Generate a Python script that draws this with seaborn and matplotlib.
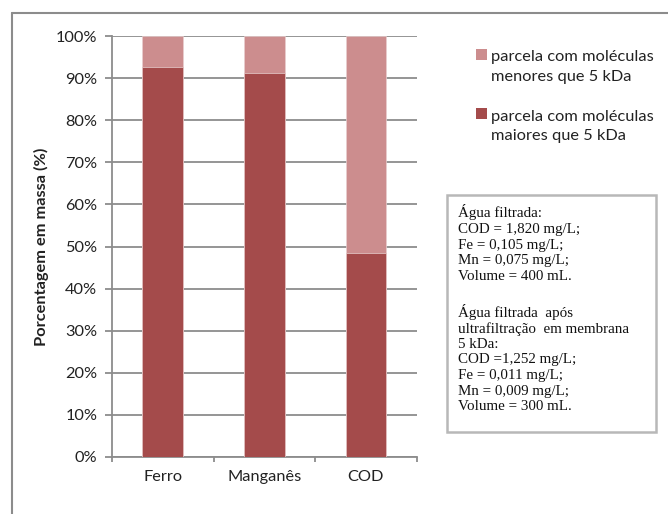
import matplotlib
matplotlib.use("Agg")
import matplotlib.pyplot as plt
from matplotlib.patches import Rectangle
from matplotlib.lines import Line2D
import seaborn as sns
import pandas as pd

# ---- dados ----
categorias = ["Ferro", "Manganês", "COD"]
maiores_5kda = [92.6, 91.3, 48.4]   # % em massa, moléculas > 5 kDa
menores_5kda = [7.4, 8.7, 51.6]     # % em massa, moléculas < 5 kDa
y_ticks = [0, 10, 20, 30, 40, 50, 60, 70, 80, 90, 100]
rotulos_legenda = [
    ["parcela com moléculas", "menores que 5 kDa"],
    ["parcela com moléculas", "maiores que 5 kDa"],
]
agua_filtrada = ["Água filtrada:", "COD = 1,820 mg/L;", "Fe = 0,105 mg/L;",
                 "Mn = 0,075 mg/L;", "Volume = 400 mL."]
agua_ultrafiltrada = ["Água filtrada  após", "ultrafiltração  em membrana", "5 kDa:",
                      "COD =1,252 mg/L;", "Fe = 0,011 mg/L;", "Mn = 0,009 mg/L;",
                      "Volume = 300 mL."]

COR_ESCURA = "#A44B4B"
COR_CLARA = "#CC8D8E"
CINZA = "#8C8C8C"
FS = 11.8

sns.set_style("white")
plt.rcParams["font.family"] = ["Lato", "DejaVu Sans"]

W, H = 668, 514
fig = plt.figure(figsize=(W / 100, H / 100), dpi=100)


def px(x, y):
    """pixel (from top-left) -> figure fraction"""
    return x / W, 1 - y / H


ax = fig.add_axes([112 / W, 1 - 457 / H, (416.7 - 112) / W, (457 - 36) / H])

df = pd.DataFrame({"categoria": categorias,
                   "maiores": maiores_5kda,
                   "menores": menores_5kda})
df["total"] = df["maiores"] + df["menores"]

# stacked bars: full column in light colour, lower part in dark colour
sns.barplot(data=df, x="categoria", y="total", color=COR_CLARA, width=0.4,
            saturation=1, errorbar=None, ax=ax, zorder=2,
            edgecolor="#E9CFCF", linewidth=0.5)
sns.barplot(data=df, x="categoria", y="maiores", color=COR_ESCURA, width=0.4,
            saturation=1, errorbar=None, ax=ax, zorder=3,
            edgecolor="#E9CFCF", linewidth=0.5)

ax.set_xlim(-0.5, len(categorias) - 0.5)
ax.set_ylim(0, 100)
ax.set_yticks(y_ticks)
ax.set_yticklabels([f"{v}%" for v in y_ticks], fontsize=FS, color="#222222")
ax.yaxis.grid(True, color=CINZA, linewidth=1.3)
ax.set_axisbelow(True)

# category labels on minor ticks, tick marks between categories
ax.set_xticks([i - 0.5 for i in range(len(categorias) + 1)])
ax.set_xticklabels([])
ax.set_xticks(range(len(categorias)), minor=True)
ax.set_xticklabels(categorias, minor=True, fontsize=FS, color="#222222")
ax.tick_params(axis="x", which="major", length=3.5, width=1.3, color=CINZA,
               direction="out", bottom=True)
ax.tick_params(axis="x", which="minor", length=0, pad=9.5)
ax.tick_params(axis="y", length=5, width=1.3, color=CINZA, pad=5.5, left=True)
ax.set_xlabel("")
ax.set_ylabel("Porcentagem em massa (%)", fontsize=FS, fontweight="bold",
              color="#222222", labelpad=5)

for s in ("top", "right"):
    ax.spines[s].set_visible(False)
for s in ("left", "bottom"):
    ax.spines[s].set_color(CINZA)
    ax.spines[s].set_linewidth(1.3)

# outer chart frame (left and top edges)
fig.add_artist(Line2D([11.5 / W, 11.5 / W], [0, 1 - 12.5 / H],
                      transform=fig.transFigure, color=CINZA, lw=1.5))
fig.add_artist(Line2D([11.5 / W, 1], [1 - 12.5 / H, 1 - 12.5 / H],
                      transform=fig.transFigure, color=CINZA, lw=1.5))

# legend
for i, (linhas, cor) in enumerate(zip(rotulos_legenda, [COR_CLARA, COR_ESCURA])):
    dy = i * 59
    x0, y0 = px(476, 59.5 + dy)
    fig.add_artist(Rectangle((x0, y0), 11.5 / W, 10.5 / H,
                             transform=fig.transFigure, facecolor=cor,
                             edgecolor="none"))
    for j, linha in enumerate(linhas):
        fx, fy = px(491, 61.5 + dy + j * 20)
        fig.text(fx, fy, linha, fontsize=FS, color="#222222",
                 ha="left", va="baseline")

# text box with water data
bx, by = px(447, 432)
fig.add_artist(Rectangle((bx, by), (656 - 447) / W, (432 - 195) / H,
                         transform=fig.transFigure, facecolor="white",
                         edgecolor="#B8B8B8", lw=1.8))
passo = 15.5
for bloco, y_ini in ((agua_filtrada, 217.5), (agua_ultrafiltrada, 317.0)):
    for j, linha in enumerate(bloco):
        fx, fy = px(458, y_ini + j * passo)
        fig.text(fx, fy, linha, fontsize=10.8, color="#111111",
                 family=["Liberation Serif", "DejaVu Serif"],
                 ha="left", va="baseline")

fig.savefig("out.png", dpi=100)
